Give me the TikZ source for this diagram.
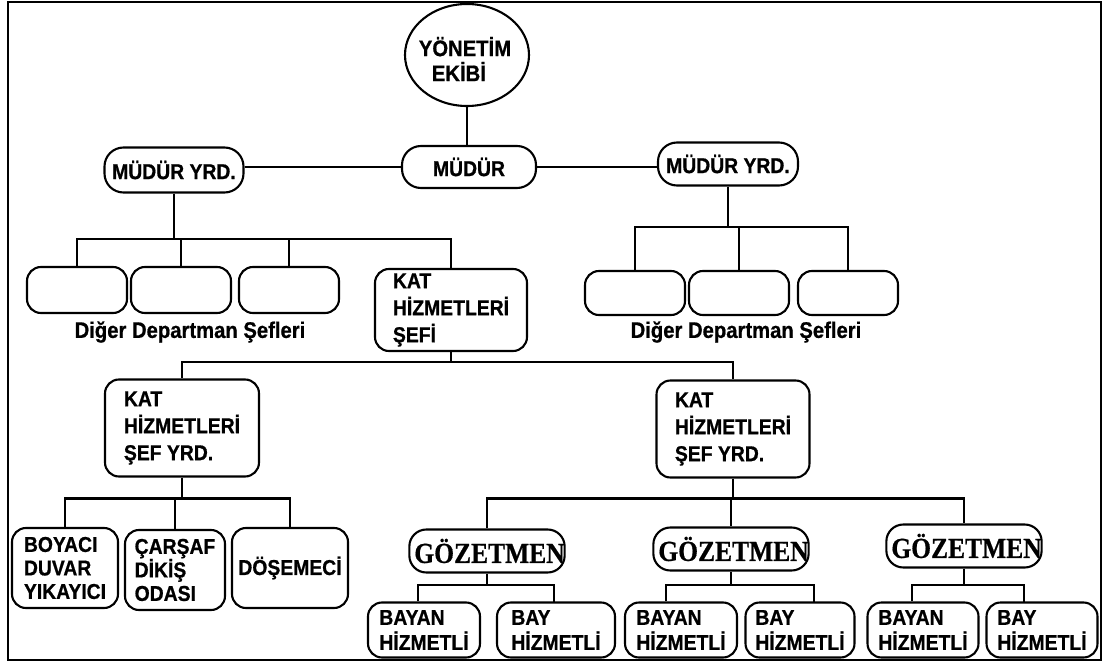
\documentclass[tikz,border=0pt]{standalone}
\usepackage{fontspec}
\setmainfont{Liberation Sans}[FakeStretch=0.9, BoldFeatures={FakeBold=0.8}]
\newfontfamily\gzfont{Liberation Serif}[FakeStretch=0.88, BoldFeatures={FakeBold=0.6}]
\usetikzlibrary{positioning, shapes.geometric, calc}

\begin{document}
\begin{tikzpicture}[
    x=1pt, y=-1pt,
    font=\bfseries\fontsize{21.5}{26}\selectfont,
    box/.style={rectangle, rounded corners=14pt, draw, line width=2.1pt, align=left, inner sep=2pt},
    pill/.style={box, rounded corners=19pt},
    blank/.style={box, minimum width=100pt, minimum height=46pt},
    tall/.style={box, minimum height=97pt, font=\bfseries\fontsize{21.5}{27}\selectfont},
    small/.style={box, minimum height=80pt, font=\bfseries\fontsize{21.5}{23.5}\selectfont},
    gz/.style={box, rounded corners=17pt, minimum width=150pt, minimum height=43pt, inner sep=0pt,
        font=\gzfont\bfseries\fontsize{29}{29}\selectfont},
    staff/.style={box, minimum height=55pt, font=\bfseries\fontsize{21.5}{25}\selectfont},
    wire/.style={line width=2.1pt}
]
\useasboundingbox (0,0) rectangle (1120,661);
\draw[wire] (8,2) rectangle (1101,660);

\node[ellipse, draw, line width=2.1pt, minimum width=124pt, minimum height=102pt] (ekip) at (467,55) {};
\node[align=left, font=\bfseries\fontsize{22.5}{25}\selectfont] (ekiptxt) at (465,59) {YÖNETİM\\\hspace*{13pt}EKİBİ};

\node[pill, minimum width=134pt, minimum height=42pt] (mudur) at (469,167) {MÜDÜR};
\node[pill, minimum width=139pt, minimum height=45pt] (lyrd) at (174,170) {MÜDÜR YRD.};
\node[pill, minimum width=140pt, minimum height=43pt] (ryrd) at (728,164) {MÜDÜR YRD.};

\foreach \n/\x in {l1/77, l2/181, l3/289} \node[blank] (\n) at (\x,290) {};
\foreach \n/\x in {r1/635, r2/739, r3/848} \node[blank, minimum height=44pt] (\n) at (\x,293) {};

\node[tall, minimum width=152pt, minimum height=82pt] (kat) at (451,310) {KAT\\HİZMETLERİ\\ŞEFİ};
\node[font=\bfseries\fontsize{22.5}{24}\selectfont] (ldiger) at (190,332) {Diğer Departman Şefleri};
\node[font=\bfseries\fontsize{22.5}{24}\selectfont] (rdiger) at (746,332) {Diğer Departman Şefleri};

\node[tall, minimum width=154pt] (lsy) at (182,428) {KAT\\HİZMETLERİ\\ŞEF YRD.};
\node[tall, minimum width=153pt] (rsy) at (733,429) {KAT\\HİZMETLERİ\\ŞEF YRD.};

\node[small, minimum width=106pt] (boy) at (65,568) {BOYACI\\DUVAR\\YIKAYICI};
\node[small, minimum width=100pt] (car) at (175,570) {ÇARŞAF\\DİKİŞ\\ODASI};
\node[small, minimum width=116pt] (dos) at (290,568) {DÖŞEMECİ};

\foreach \n/\x/\y in {g1/487/551, g2/731/549, g3/964/546} \node[gz] (\n) at (\x,\y) {\hspace*{5pt}GÖZETMEN};

\foreach \n/\x/\w in {b1/424/112, b2/681/112, b3/923/111} \node[staff, minimum width=\w] (\n) at (\x,630) {BAYAN\\HİZMETLİ};
\foreach \n/\x/\w in {y1/556/118, y2/800/109, y3/1042/111} \node[staff, minimum width=\w] (\n) at (\x,630) {BAY\\HİZMETLİ};

\coordinate (lbus) at (0,239);
\coordinate (rbus) at (0,227);
\coordinate (kbus) at (0,362);
\coordinate (sbus) at (0,498.5);
\coordinate (gbus) at (0,585);

\draw[wire] (ekip.south) -- (ekip.south |- mudur.north);
\draw[wire] (mudur.west) -- (mudur.west -| lyrd.east);
\draw[wire] (mudur.east) -- (mudur.east -| ryrd.west);

\foreach \p/\a/\b/\c in {lyrd/l1/kat/lbus, ryrd/r1/r3/rbus, kat/lsy/rsy/kbus, lsy/boy/dos/sbus, rsy/g1/g3/sbus} {
    \draw[wire] (\p.south) -- (\p.south |- \c);
    \draw[wire] (\a.north) |- (\c -| \b.north) -- (\b.north);
}
\foreach \n/\c in {l2/lbus, l3/lbus, r2/rbus, car/sbus, g2/sbus} \draw[wire] (\n.north) -- (\n.north |- \c);

\foreach \p/\a/\b/\da/\db in {g1/b1/y1/-6/-2, g2/b2/y2/-15/14, g3/b3/y3/-11/-18} {
    \draw[wire] (\p.south) -- (\p.south |- gbus);
    \draw[wire] ($(\a.north)+(\da,0)$) |- ($(gbus -| \b.north)+(\db,0)$) -- ++(0,17.5);
}
\end{tikzpicture}
\end{document}
